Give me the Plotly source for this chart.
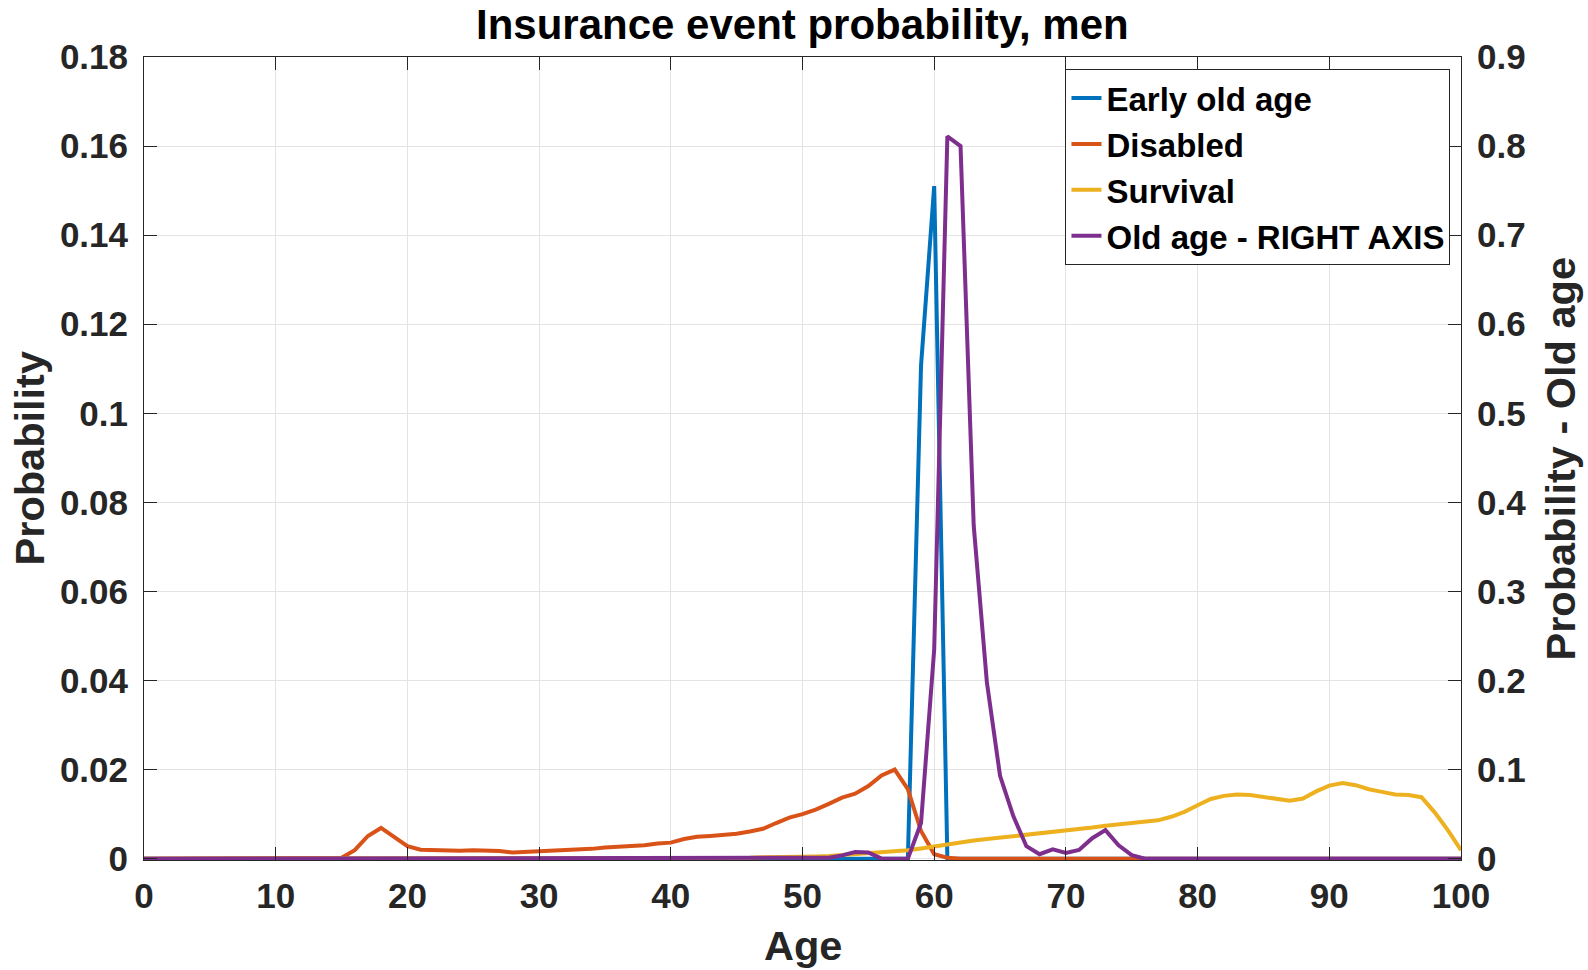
import plotly.graph_objects as go

# ---------------- data ----------------
ages = list(range(0, 101))

early_old_age = [0.0] * 59 + [0.1107, 0.151] + [0.0] * 40

disabled = (
    [0.0] * 15
    + [0.0002, 0.0019, 0.0051, 0.0069, 0.0049, 0.0028, 0.0020, 0.0019, 0.0019, 0.0018,
       0.0019, 0.0019, 0.0017, 0.0014, 0.0015, 0.0016, 0.0017, 0.0019, 0.0021, 0.0022,
       0.0025, 0.0026, 0.0028, 0.0030, 0.0034, 0.0036, 0.0044, 0.0049, 0.0051, 0.0053,
       0.0056, 0.0061, 0.0067, 0.0080, 0.0092, 0.0100, 0.0110, 0.0123, 0.0137, 0.0146,
       0.0163, 0.0187, 0.0200, 0.0156, 0.0062, 0.0010, 0.0002]
    + [0.0] * 39
)

survival = (
    [0.0] * 40
    + [0.0001, 0.0001, 0.0001, 0.0001, 0.0002, 0.0002, 0.0002, 0.0003, 0.0003, 0.0004,
       0.0004, 0.0005, 0.0006, 0.0008, 0.0009, 0.0011, 0.0013, 0.0016, 0.0019, 0.0023,
       0.0028, 0.0033, 0.0038, 0.0041, 0.0044, 0.0047, 0.0050, 0.0053, 0.0056, 0.0060,
       0.0064, 0.0067, 0.0070, 0.0074, 0.0077, 0.0080, 0.0083, 0.0086, 0.0094, 0.0105,
       0.0120, 0.0134, 0.0141, 0.0144, 0.0143, 0.0138, 0.0134, 0.0130, 0.0135, 0.0151,
       0.0164, 0.0170, 0.0165, 0.0156, 0.0150, 0.0144, 0.0143, 0.0138, 0.0104, 0.0064,
       0.0019]
)

old_age = (
    [0.0] * 52
    + [0.001, 0.0037, 0.0075, 0.007, 0.0, 0.0, 0.0, 0.04, 0.235, 0.811,
       0.800, 0.374, 0.198, 0.093, 0.048, 0.014, 0.005, 0.0105, 0.0065, 0.0097,
       0.023, 0.032, 0.015, 0.004]
    + [0.0] * 25
)

series_names = ["Early old age", "Disabled", "Survival", "Old age - RIGHT AXIS"]
series_colors = ["#0072BD", "#D95319", "#EDB120", "#7E2F8E"]

x_tickvals = list(range(0, 101, 10))
x_ticktext = [str(v) for v in x_tickvals]
y_tickvals = [0, 0.02, 0.04, 0.06, 0.08, 0.1, 0.12, 0.14, 0.16, 0.18]
y_ticktext = ["0", "0.02", "0.04", "0.06", "0.08", "0.1", "0.12", "0.14", "0.16", "0.18"]
y2_tickvals = [0, 0.1, 0.2, 0.3, 0.4, 0.5, 0.6, 0.7, 0.8, 0.9]
y2_ticktext = ["0", "0.1", "0.2", "0.3", "0.4", "0.5", "0.6", "0.7", "0.8", "0.9"]

title_text = "Insurance event probability, men"
xlabel = "Age"
ylabel = "Probability"
y2label = "Probability - Old age"

# ---------------- figure ----------------
FONT = "Liberation Sans, Arial, sans-serif"
AX = "#262626"
GRID = "#e3e3e3"
LW = 4

fig = go.Figure()
left_series = [early_old_age, disabled, survival]
for vals, name, col in zip(left_series, series_names[:3], series_colors[:3]):
    fig.add_trace(go.Scatter(x=ages, y=vals, mode="lines", name=name,
                             line=dict(color=col, width=LW), yaxis="y"))
fig.add_trace(go.Scatter(x=ages, y=old_age, mode="lines", name=series_names[3],
                         line=dict(color=series_colors[3], width=LW), yaxis="y2"))

tickfont = dict(family=FONT, size=35, color=AX, weight="bold")

fig.update_layout(
    width=1588, height=970,
    margin=dict(l=144, r=127, t=57, b=110),
    paper_bgcolor="white", plot_bgcolor="white",
    showlegend=True,
    legend=dict(x=0.992, y=0.985, xanchor="right", yanchor="top",
                bgcolor="white", bordercolor=AX, borderwidth=1,
                font=dict(family=FONT, size=33, color="black", weight="bold"),
                tracegroupgap=0, itemwidth=30),
    xaxis=dict(range=[0, 100], tickvals=x_tickvals, ticktext=x_ticktext,
               showgrid=True, gridcolor=GRID, gridwidth=1, zeroline=False,
               showline=True, linecolor=AX, linewidth=1, mirror="ticks",
               ticks="inside", ticklen=13, tickwidth=1, tickcolor=AX,
               tickfont=tickfont, ticklabelstandoff=5),
    yaxis=dict(range=[-0.0003, 0.18], tickvals=y_tickvals, ticktext=y_ticktext,
               showgrid=True, gridcolor=GRID, gridwidth=1, zeroline=False,
               showline=True, linecolor=AX, linewidth=1,
               ticks="inside", ticklen=13, tickwidth=1, tickcolor=AX,
               tickfont=tickfont, ticklabelstandoff=8),
    yaxis2=dict(range=[-0.0015, 0.9], tickvals=y2_tickvals, ticktext=y2_ticktext,
                overlaying="y", side="right", showgrid=False, zeroline=False,
                showline=True, linecolor=AX, linewidth=1,
                ticks="inside", ticklen=13, tickwidth=1, tickcolor=AX,
                tickfont=tickfont, ticklabelstandoff=8),
    annotations=[
        dict(text=title_text, xref="paper", yref="paper", x=0.5, y=1.0400,
             xanchor="center", yanchor="middle", showarrow=False,
             font=dict(family=FONT, size=42, color="black", weight="bold")),
        dict(text=xlabel, xref="paper", yref="paper", x=0.5, y=-0.1070,
             xanchor="center", yanchor="middle", showarrow=False,
             font=dict(family=FONT, size=41.5, color=AX, weight="bold")),
        dict(text=ylabel, xref="paper", yref="paper", x=-0.0866, y=0.5,
             xanchor="center", yanchor="middle", showarrow=False, textangle=-90,
             font=dict(family=FONT, size=41.5, color=AX, weight="bold")),
        dict(text=y2label, xref="paper", yref="paper", x=1.0752, y=0.5,
             xanchor="center", yanchor="middle", showarrow=False, textangle=-90,
             font=dict(family=FONT, size=41.5, color=AX, weight="bold")),
    ],
)

fig.write_html("out.html")
